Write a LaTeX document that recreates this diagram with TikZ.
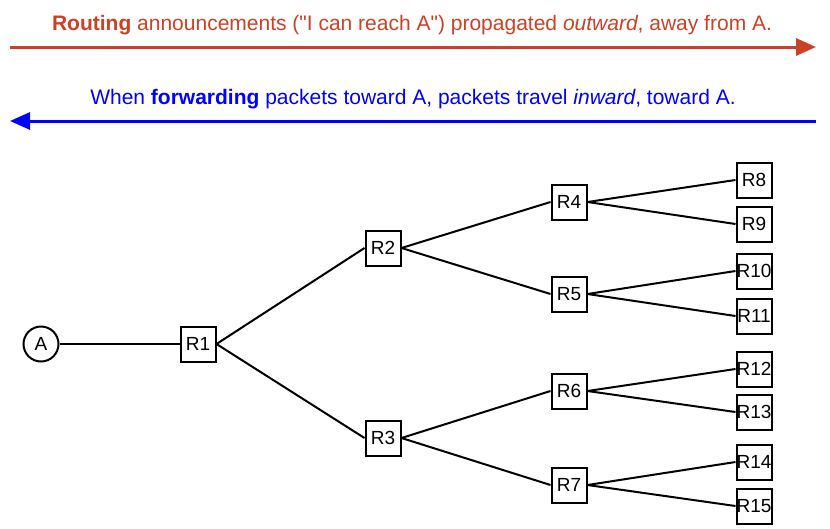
\documentclass[tikz,border=0pt]{standalone}
\usepackage{fontspec}
\setmainfont{Liberation Sans}
\usetikzlibrary{arrows.meta}
\definecolor{announcered}{RGB}{204,65,37}
\tikzset{
  router/.style={draw, line width=2pt, minimum size=35pt, inner sep=0pt,
    font=\fontsize{19}{21}\selectfont},
  host/.style={draw, circle, line width=2pt, minimum size=35pt, inner sep=0pt,
    font=\fontsize{19}{21}\selectfont},
  link/.style={line width=2pt},
  flow/.style={line width=3pt, -{Triangle[length=20pt,width=17pt]}},
  caption/.style={font=\fontsize{21}{24}\selectfont}
}

\begin{document}
\begin{tikzpicture}[x=1pt,y=-1pt]
\useasboundingbox (0,0) rectangle (830,528);
% direction arrows
\node[caption, text=announcered] (outtext) at (412,25)
  {\textbf{Routing} announcements (\textquotedbl I can reach A\textquotedbl) propagated \textit{outward}, away from A.};
\coordinate (outL) at (10,47);
\coordinate (outR) at (816,47);
\draw[flow, announcered] (outL) -- (outR);
\node[caption, text=blue] (intext) at (413,99)
  {When \textbf{forwarding} packets toward A, packets travel \textit{inward}, toward A.};
\coordinate (inR) at (816,121);
\coordinate (inL) at (10,121);
\draw[flow, blue] (inR) -- (inL);
% tree
\node[host] (A) at (41,344) {A};
\node[router] (R1) at (198,344) {R1};
\node[router] (R2) at (383,248) {R2};
\node[router] (R3) at (383,438) {R3};
\node[router] (R4) at (569,202) {R4};
\node[router] (R5) at (569,294) {R5};
\node[router] (R6) at (569,391) {R6};
\node[router] (R7) at (569,485) {R7};
\node[router] (R8) at (754,180) {R8};
\node[router] (R9) at (754,224) {R9};
\node[router] (R10) at (754,271) {R10};
\node[router] (R11) at (754,316) {R11};
\node[router] (R12) at (754,369) {R12};
\node[router] (R13) at (754,412) {R13};
\node[router] (R14) at (754,462) {R14};
\node[router] (R15) at (754,506) {R15};
\draw[link] (A) -- (R1);
\foreach \from/\to in {R1/R2,R1/R3,R2/R4,R2/R5,R3/R6,R3/R7,R4/R8,R4/R9,
    R5/R10,R5/R11,R6/R12,R6/R13,R7/R14,R7/R15}
  \draw[link] (\from.east) -- (\to.west);
\end{tikzpicture}
\end{document}
